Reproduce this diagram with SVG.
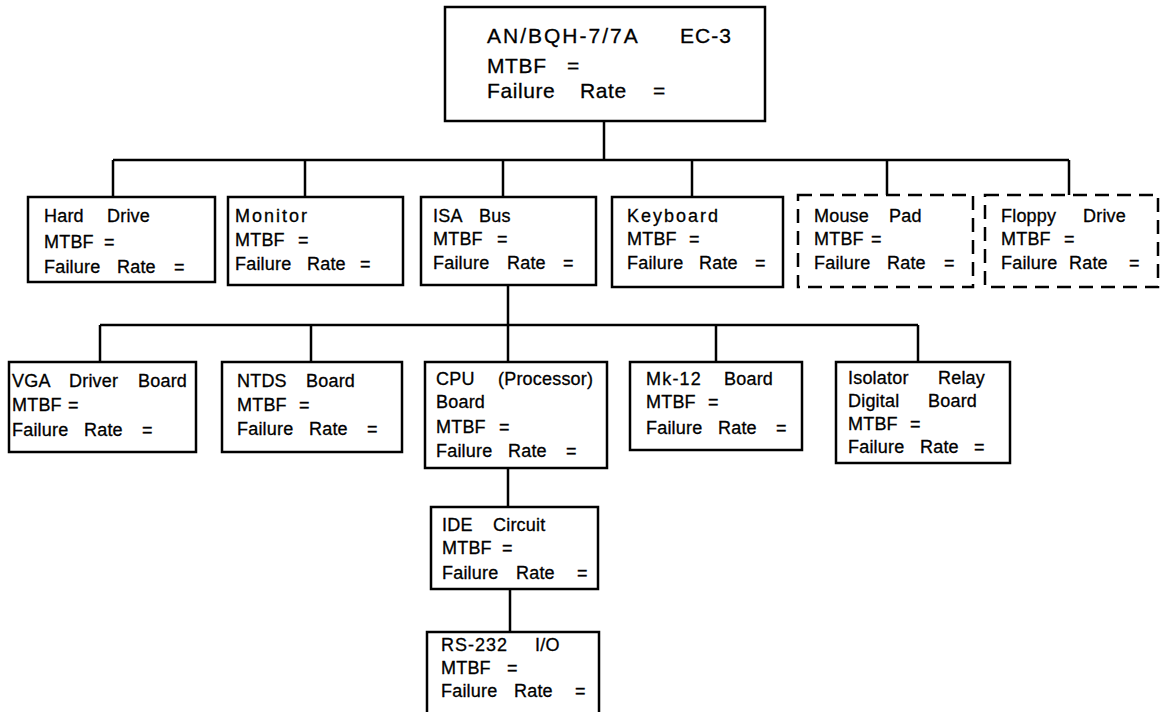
<svg xmlns="http://www.w3.org/2000/svg" width="1160" height="712" viewBox="0 0 1160 712">
<style>
.box{fill:#fff;stroke:#000;stroke-width:2.5}
.dash{fill:#fff;stroke:#000;stroke-width:2.5;stroke-dasharray:14 8}
.ln{fill:none;stroke:#000;stroke-width:2.5}
text{font-family:"Liberation Sans",Arial,sans-serif;font-size:18px;fill:#000;stroke:#000;stroke-width:0.3;letter-spacing:0.2px}
.big{font-size:21px;letter-spacing:0.6px}
.sp{letter-spacing:2px}
</style>
<rect width="1160" height="712" fill="#fff"/>
<g id="connectors">
<path class="ln" d="M604,121V160M113,160H1069M113,160V197M305,160V197M503,160V197M692,160V197M887,160V195M1069,160V195"/>
<path class="ln" d="M508,285V325M100,325H918M100,325V362M311,325V362M508,325V362M716,325V362M918,325V362"/>
<path class="ln" d="M508,468V507M510,589V632"/>
</g>
<g id="top">
<rect class="box" x="445" y="7" width="320" height="114"/>
<text class="big" y="43"><tspan x="487" letter-spacing="2">AN/BQH-7/7A</tspan><tspan x="680" letter-spacing="1">EC-3</tspan></text>
<text class="big" y="73"><tspan x="487">MTBF</tspan><tspan x="567">=</tspan></text>
<text class="big" y="98"><tspan x="487">Failure</tspan><tspan x="580">Rate</tspan><tspan x="653">=</tspan></text>
</g>
<g id="hard-drive">
<rect class="box" x="28" y="197" width="187" height="85"/>
<text y="222"><tspan x="44">Hard</tspan><tspan x="107">Drive</tspan></text>
<text y="248"><tspan x="44">MTBF</tspan><tspan x="104">=</tspan></text>
<text y="273"><tspan x="44">Failure</tspan><tspan x="117">Rate</tspan><tspan x="174">=</tspan></text>
</g>
<g id="monitor">
<rect class="box" x="228" y="197" width="175" height="88"/>
<text y="222" class="sp" x="235">Monitor</text>
<text y="246"><tspan x="235">MTBF</tspan><tspan x="298">=</tspan></text>
<text y="270"><tspan x="235">Failure</tspan><tspan x="307">Rate</tspan><tspan x="360">=</tspan></text>
</g>
<g id="isa-bus">
<rect class="box" x="421" y="197" width="175" height="88"/>
<text y="222"><tspan x="433">ISA</tspan><tspan x="479">Bus</tspan></text>
<text y="245"><tspan x="433">MTBF</tspan><tspan x="497">=</tspan></text>
<text y="269"><tspan x="433">Failure</tspan><tspan x="507">Rate</tspan><tspan x="563">=</tspan></text>
</g>
<g id="keyboard">
<rect class="box" x="612" y="197" width="171" height="90"/>
<text y="222" class="sp" x="627">Keyboard</text>
<text y="245"><tspan x="627">MTBF</tspan><tspan x="689">=</tspan></text>
<text y="269"><tspan x="627">Failure</tspan><tspan x="699">Rate</tspan><tspan x="755">=</tspan></text>
</g>
<g id="mouse-pad">
<rect class="dash" x="798" y="195" width="175" height="92"/>
<text y="222"><tspan x="814">Mouse</tspan><tspan x="889">Pad</tspan></text>
<text y="245"><tspan x="814">MTBF</tspan><tspan x="871">=</tspan></text>
<text y="269"><tspan x="814">Failure</tspan><tspan x="887">Rate</tspan><tspan x="944">=</tspan></text>
</g>
<g id="floppy-drive">
<rect class="dash" x="985" y="195" width="173" height="92"/>
<text y="222"><tspan x="1001">Floppy</tspan><tspan x="1083">Drive</tspan></text>
<text y="245"><tspan x="1001">MTBF</tspan><tspan x="1064">=</tspan></text>
<text y="269"><tspan x="1001">Failure</tspan><tspan x="1069">Rate</tspan><tspan x="1129">=</tspan></text>
</g>
<g id="vga">
<rect class="box" x="9" y="362" width="187" height="90"/>
<text y="387"><tspan x="12">VGA</tspan><tspan x="69">Driver</tspan><tspan x="138">Board</tspan></text>
<text y="411"><tspan x="12">MTBF</tspan><tspan x="68">=</tspan></text>
<text y="436"><tspan x="12">Failure</tspan><tspan x="84">Rate</tspan><tspan x="142">=</tspan></text>
</g>
<g id="ntds">
<rect class="box" x="222" y="362" width="180" height="90"/>
<text y="387"><tspan x="237">NTDS</tspan><tspan x="306">Board</tspan></text>
<text y="411"><tspan x="237">MTBF</tspan><tspan x="299">=</tspan></text>
<text y="435"><tspan x="237">Failure</tspan><tspan x="309">Rate</tspan><tspan x="367">=</tspan></text>
</g>
<g id="cpu">
<rect class="box" x="425" y="362" width="182" height="106"/>
<text y="385"><tspan x="436">CPU</tspan><tspan x="498">(Processor)</tspan></text>
<text y="408" x="436" letter-spacing="1.2">Board</text>
<text y="433"><tspan x="436">MTBF</tspan><tspan x="499">=</tspan></text>
<text y="457"><tspan x="436">Failure</tspan><tspan x="508">Rate</tspan><tspan x="566">=</tspan></text>
</g>
<g id="mk12">
<rect class="box" x="630" y="362" width="172" height="88"/>
<text y="385"><tspan x="646" letter-spacing="1.2">Mk-12</tspan><tspan x="724">Board</tspan></text>
<text y="408"><tspan x="646">MTBF</tspan><tspan x="708">=</tspan></text>
<text y="434"><tspan x="646">Failure</tspan><tspan x="718">Rate</tspan><tspan x="776">=</tspan></text>
</g>
<g id="isolator">
<rect class="box" x="836" y="362" width="174" height="101"/>
<text y="384"><tspan x="848">Isolator</tspan><tspan x="938">Relay</tspan></text>
<text y="407"><tspan x="848">Digital</tspan><tspan x="928">Board</tspan></text>
<text y="430"><tspan x="848">MTBF</tspan><tspan x="910">=</tspan></text>
<text y="453"><tspan x="848">Failure</tspan><tspan x="920">Rate</tspan><tspan x="974">=</tspan></text>
</g>
<g id="ide">
<rect class="box" x="431" y="507" width="167" height="82"/>
<text y="531"><tspan x="442">IDE</tspan><tspan x="493">Circuit</tspan></text>
<text y="554"><tspan x="442">MTBF</tspan><tspan x="502">=</tspan></text>
<text y="579"><tspan x="442">Failure</tspan><tspan x="516">Rate</tspan><tspan x="577">=</tspan></text>
</g>
<g id="rs232">
<rect class="box" x="427" y="632" width="172" height="92"/>
<text y="651"><tspan x="441" letter-spacing="1">RS-232</tspan><tspan x="535">I/O</tspan></text>
<text y="674"><tspan x="441">MTBF</tspan><tspan x="507">=</tspan></text>
<text y="697"><tspan x="441">Failure</tspan><tspan x="514">Rate</tspan><tspan x="575">=</tspan></text>
</g>
</svg>
